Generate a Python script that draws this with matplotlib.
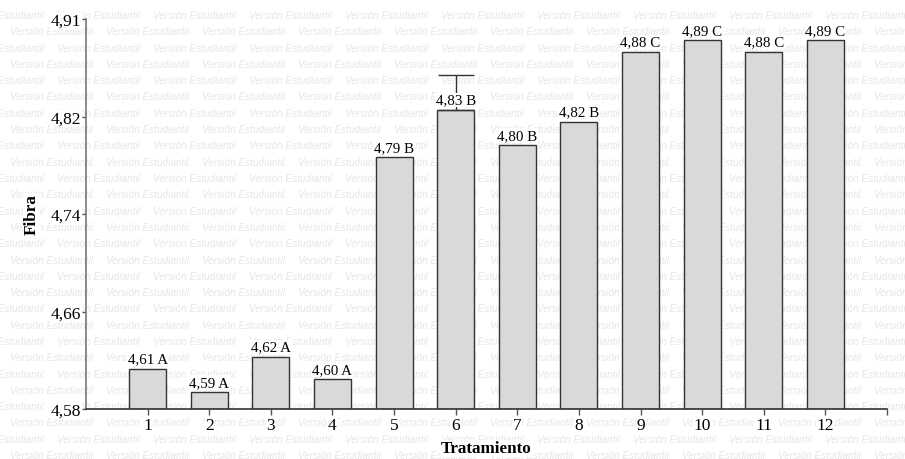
import matplotlib
matplotlib.use("Agg")
import matplotlib.pyplot as plt

# data
tratamientos = ["1", "2", "3", "4", "5", "6", "7", "8", "9", "10", "11", "12"]
fibra = [4.614, 4.594, 4.624, 4.605, 4.793, 4.833, 4.803, 4.823, 4.882, 4.892, 4.882, 4.892]
etiquetas = ["4,61 A", "4,59 A", "4,62 A", "4,60 A", "4,79 B", "4,83 B",
             "4,80 B", "4,82 B", "4,88 C", "4,89 C", "4,88 C", "4,89 C"]
err_idx = 5
err_val = 0.030
yticks = [4.58, 4.6625, 4.745, 4.8275, 4.91]
ytick_labels = ["4,58", "4,66", "4,74", "4,82", "4,91"]

W, H = 905, 460
fig = plt.figure(figsize=(W / 100, H / 100), dpi=100)

# watermark behind everything
wm = "Versión Estudiantil"
period = 96
for r in range(29):
    y = 16 + r * 16.3
    x = -39 if r % 2 == 0 else 10
    while x < W:
        fig.text(x / W, 1 - y / H, wm, fontsize=7.2, style="italic", color="#e6e6e6",
                 family="Liberation Sans", va="center", ha="left", zorder=-5)
        x += period

white = dict(facecolor="white", edgecolor="none", pad=0.5)

ax = fig.add_axes([86 / W, 1 - 410 / H, (887 - 86) / W, (410 - 20) / H])
ax.patch.set_alpha(0)

xs = list(range(1, len(fibra) + 1))
ax.bar(xs, [v - 4.58 for v in fibra], bottom=4.58, width=0.6,
       color="#d9d9d9", edgecolor="#333333", linewidth=1.0, zorder=2)
ax.errorbar([xs[err_idx]], [fibra[err_idx]], yerr=[[0], [err_val]], fmt="none",
            ecolor="#333333", elinewidth=1.0, capsize=13.3, capthick=1.0, zorder=3)
for x, v, t in zip(xs, fibra, etiquetas):
    ax.text(x, v + 0.003, t, ha="center", va="bottom", fontsize=10.8,
            family="Liberation Serif", zorder=4, bbox=white)

ax.set_xlim(0, 13)
ax.set_ylim(4.58, 4.91)
ax.set_xticks(xs + [13])
ax.set_xticklabels(tratamientos + [""], family="Liberation Serif", fontsize=12.5)
ax.set_yticks(yticks)
ax.set_yticklabels(ytick_labels, family="Liberation Serif", fontsize=12.5)
for lab in ax.get_xticklabels() + ax.get_yticklabels():
    lab.set_bbox(white)
ax.tick_params(axis="x", direction="out", length=4, width=1, color="#555555", pad=2)
ax.tick_params(axis="y", direction="out", length=3, width=1, color="#555555", pad=0.5)

for s in ["top", "right"]:
    ax.spines[s].set_visible(False)
ax.spines["left"].set_color("#777777")
ax.spines["bottom"].set_color("#333333")
ax.spines["left"].set_linewidth(1.2)
ax.spines["bottom"].set_linewidth(1.2)

ax.set_xlabel("Tratamiento", family="Liberation Serif", fontsize=12.3, fontweight="bold",
              labelpad=5, bbox=white)
ax.set_ylabel("Fibra", family="Liberation Serif", fontsize=12.3, fontweight="bold",
              labelpad=8, bbox=white)

fig.savefig("out.png", dpi=100)
